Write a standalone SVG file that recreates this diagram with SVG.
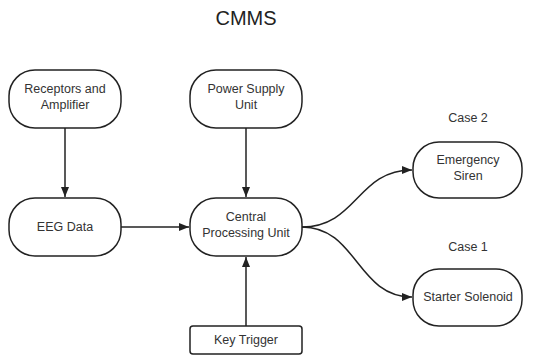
<svg xmlns="http://www.w3.org/2000/svg" width="533" height="358" viewBox="0 0 533 358">
<style>
.n{fill:#fff;stroke:#222;stroke-width:1.5}
.t{font-family:"Liberation Sans",Arial,sans-serif;font-size:12.5px;fill:#333;text-anchor:middle}
.c{fill:none;stroke:#222;stroke-width:1.5}
</style>
<defs>
<marker id="a" viewBox="0 0 10 10" refX="10" refY="5" markerWidth="10" markerHeight="10" markerUnits="userSpaceOnUse" orient="auto">
<path d="M0,1 L10,5 L0,9 Z" fill="#222"/>
</marker>
</defs>
<rect width="533" height="358" fill="#fff"/>
<text x="246" y="25" class="t" style="font-size:20px;fill:#222">CMMS</text>
<text x="468" y="122" class="t">Case 2</text>
<text x="468" y="251" class="t">Case 1</text>
<g id="connectors">
<path class="c" d="M65,128 V197" marker-end="url(#a)"/>
<path class="c" d="M246,128 V197" marker-end="url(#a)"/>
<path class="c" d="M121,227 H189" marker-end="url(#a)"/>
<path class="c" d="M246,326 V257" marker-end="url(#a)"/>
<path class="c" d="M302,227 C357,227 357,170 412,170" marker-end="url(#a)"/>
<path class="c" d="M302,227 C357,227 357,297 412,297" marker-end="url(#a)"/>
</g>
<g id="receptors">
<rect class="n" x="9" y="70" width="112" height="58" rx="26"/>
<text class="t" x="65" y="93">Receptors and</text>
<text class="t" x="65" y="109">Amplifier</text>
</g>
<g id="power">
<rect class="n" x="190" y="70" width="112" height="58" rx="26"/>
<text class="t" x="246" y="93">Power Supply</text>
<text class="t" x="246" y="109">Unit</text>
</g>
<g id="eeg">
<rect class="n" x="9" y="198" width="112" height="58" rx="26"/>
<text class="t" x="65" y="231">EEG Data</text>
</g>
<g id="cpu">
<rect class="n" x="190" y="198" width="112" height="58" rx="26"/>
<text class="t" x="246" y="221">Central</text>
<text class="t" x="246" y="237">Processing Unit</text>
</g>
<g id="siren">
<rect class="n" x="413" y="142" width="109" height="56" rx="26"/>
<text class="t" x="468" y="164">Emergency</text>
<text class="t" x="468" y="180">Siren</text>
</g>
<g id="solenoid">
<rect class="n" x="413" y="269" width="109" height="57" rx="26"/>
<text class="t" x="468" y="301">Starter Solenoid</text>
</g>
<g id="key">
<rect class="n" x="190" y="326" width="112" height="28" rx="3"/>
<text class="t" x="246" y="344">Key Trigger</text>
</g>
</svg>
